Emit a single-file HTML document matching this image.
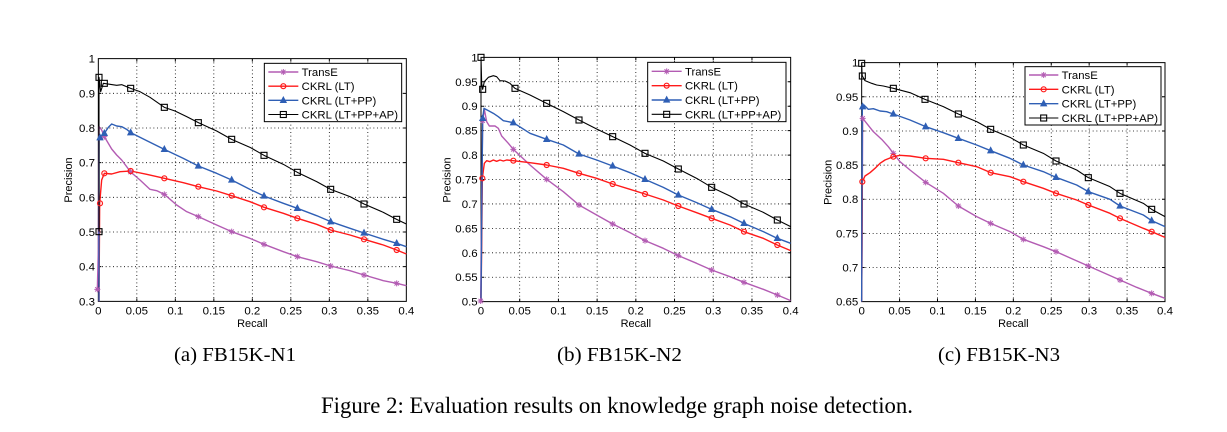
<!DOCTYPE html>
<html><head><meta charset="utf-8"><style>
html,body{margin:0;padding:0;background:#fff;}
svg{display:block;}
.tk{font-family:"Liberation Sans",Arial,sans-serif;font-size:34.5px;fill:#000;}
.lb{font-family:"Liberation Sans",Arial,sans-serif;font-size:33px;fill:#000;}
.lg{font-family:"Liberation Sans",Arial,sans-serif;font-size:34px;fill:#000;}
.cap{font-family:"Liberation Serif","Times New Roman",serif;fill:#000;}
.grid{stroke:#000;stroke-width:2.4;stroke-dasharray:3 8;fill:none;}
.ax{stroke:#000;stroke-width:3;fill:none;}
.pu{stroke:#b35cb3;stroke-width:4.2;fill:none;stroke-linejoin:round;}
.rd{stroke:#ff1a1a;stroke-width:4.2;fill:none;stroke-linejoin:round;}
.bl{stroke:#2f5fb5;stroke-width:4.2;fill:none;stroke-linejoin:round;}
.bk{stroke:#000;stroke-width:3.3;fill:none;stroke-linejoin:round;}
</style></head><body>
<svg width="1227" height="432" viewBox="0 0 1227 432" xmlns="http://www.w3.org/2000/svg">
<defs>
<g id="msq"><rect x="-9" y="-9" width="18" height="18" fill="none" stroke="#000" stroke-width="3.3"/></g>
<g id="mci"><circle r="7.5" fill="none" stroke="#ff1a1a" stroke-width="3.6"/></g>
<g id="mtr"><polygon points="0,-11 9.5,7 -9.5,7" fill="#2f5fb5" stroke="#2f5fb5" stroke-width="2"/></g>
<g id="mst"><path d="M-9,0 L9,0 M0,-9 L0,9 M-6.5,-6.5 L6.5,6.5 M-6.5,6.5 L6.5,-6.5" stroke="#b35cb3" stroke-width="3" fill="none"/></g>
</defs>
<rect width="1227" height="432" fill="#fff"/>

<!-- Chart 1 -->
<g transform="translate(50,50) scale(0.333333)">
<path class="grid" d="M260.5,26V754M376,26V754M491.5,26V754M607,26V754M722.5,26V754M838,26V754M953.5,26V754M145,130H1069M145,234H1069M145,338H1069M145,442H1069M145,546H1069M145,650H1069"/>
<path class="ax" d="M145,26H1069V754H145Z"/>
<path class="ax" d="M260.5,754v-9M376,754v-9M491.5,754v-9M607,754v-9M722.5,754v-9M838,754v-9M953.5,754v-9M260.5,26v9M376,26v9M491.5,26v9M607,26v9M722.5,26v9M838,26v9M953.5,26v9M145,130h9M145,234h9M145,338h9M145,442h9M145,546h9M145,650h9M1069,130h-9M1069,234h-9M1069,338h-9M1069,442h-9M1069,546h-9M1069,650h-9"/>
<g class="tk" text-anchor="middle">
<text x="145" y="793">0</text><text x="260.5" y="793">0.05</text><text x="376" y="793">0.1</text><text x="491.5" y="793">0.15</text><text x="607" y="793">0.2</text><text x="722.5" y="793">0.25</text><text x="838" y="793">0.3</text><text x="953.5" y="793">0.35</text><text x="1069" y="793">0.4</text>
</g>
<g class="tk" text-anchor="end">
<text x="135" y="38">1</text><text x="135" y="142">0.9</text><text x="135" y="246">0.8</text><text x="135" y="350">0.7</text><text x="135" y="454">0.6</text><text x="135" y="558">0.5</text><text x="135" y="662">0.4</text><text x="135" y="766">0.3</text>
</g>
<text class="lb" x="607" y="831" text-anchor="middle">Recall</text>
<text class="lb" transform="translate(66,390) rotate(-90)" text-anchor="middle">Precision</text>

<path class="pu" d="M142,718 L145,600 L147,230 L155,240 L163,260 L175,280 L185,297 L200,315 L215,330 L242,366 L270,390 L300,418 L320,422 L343,433 L380,465 L410,485 L445,500 L500,525 L545,545 L600,565 L642,583 L700,605 L742,620 L800,635 L842,648 L900,662 L942,675 L1000,692 L1040,700 L1069,707"/>
<path class="rd" d="M147,754 L149,460 L155,390 L163,370 L185,372 L210,365 L242,363 L290,373 L343,385 L400,398 L445,410 L500,423 L545,437 L600,455 L642,472 L700,490 L742,505 L800,523 L842,540 L900,555 L942,568 L1000,585 L1040,600 L1069,612"/>
<path class="bl" d="M147,754 L147,263 L155,262 L163,250 L175,232 L185,222 L200,228 L215,230 L230,238 L242,248 L290,272 L343,298 L400,325 L445,348 L500,370 L545,390 L600,418 L642,438 L700,460 L742,475 L800,497 L842,515 L900,535 L942,549 L1000,568 L1040,580 L1069,590"/>
<path class="bk" d="M147,545 L147,82 L152,125 L160,100 L180,103 L200,106 L215,104 L242,115 L270,125 L300,142 L343,172 L375,183 L410,200 L445,218 L500,243 L545,268 L600,292 L642,316 L700,343 L742,367 L800,395 L842,418 L900,440 L942,462 L1000,487 L1040,508 L1069,522"/>
<use href="#mst" x="142" y="718"/><use href="#mst" x="163" y="260"/><use href="#mst" x="242" y="366"/><use href="#mst" x="343" y="433"/><use href="#mst" x="445" y="500"/><use href="#mst" x="545" y="545"/><use href="#mst" x="642" y="583"/><use href="#mst" x="742" y="620"/><use href="#mst" x="842" y="648"/><use href="#mst" x="942" y="675"/><use href="#mst" x="1040" y="700"/>
<use href="#mci" x="150" y="460"/><use href="#mci" x="163" y="370"/><use href="#mci" x="242" y="363"/><use href="#mci" x="343" y="385"/><use href="#mci" x="445" y="410"/><use href="#mci" x="545" y="437"/><use href="#mci" x="642" y="472"/><use href="#mci" x="742" y="505"/><use href="#mci" x="842" y="540"/><use href="#mci" x="942" y="568"/><use href="#mci" x="1040" y="600"/>
<use href="#mtr" x="150" y="263"/><use href="#mtr" x="163" y="250"/><use href="#mtr" x="242" y="248"/><use href="#mtr" x="343" y="298"/><use href="#mtr" x="445" y="348"/><use href="#mtr" x="545" y="390"/><use href="#mtr" x="642" y="438"/><use href="#mtr" x="742" y="475"/><use href="#mtr" x="842" y="515"/><use href="#mtr" x="942" y="549"/><use href="#mtr" x="1040" y="580"/>
<use href="#msq" x="147" y="545"/><use href="#msq" x="147" y="82"/><use href="#msq" x="163" y="100"/><use href="#msq" x="242" y="115"/><use href="#msq" x="343" y="172"/><use href="#msq" x="445" y="218"/><use href="#msq" x="545" y="268"/><use href="#msq" x="642" y="316"/><use href="#msq" x="742" y="367"/><use href="#msq" x="842" y="418"/><use href="#msq" x="942" y="462"/><use href="#msq" x="1040" y="508"/>

<rect x="643" y="40" width="412" height="175" fill="#fff" stroke="#000" stroke-width="3"/>
<path class="pu" d="M655,66H745"/><use href="#mst" x="700" y="66"/><text class="lg" x="755" y="78">TransE</text>
<path class="rd" d="M655,108.5H745"/><use href="#mci" x="700" y="108.5"/><text class="lg" x="755" y="120.5">CKRL (LT)</text>
<path class="bl" d="M655,151H745"/><use href="#mtr" x="700" y="151"/><text class="lg" x="755" y="163">CKRL (LT+PP)</text>
<path class="bk" d="M655,193.5H745"/><use href="#msq" x="700" y="193.5"/><text class="lg" x="755" y="205.5">CKRL (LT+PP+AP)</text>
</g>

<!-- Chart 2 -->
<g transform="translate(430,50) scale(0.333333)">
<path class="grid" d="M269.1,22V755M385.25,22V755M501.4,22V755M617.5,22V755M733.6,22V755M849.75,22V755M965.9,22V755M153,95.3H1082M153,168.6H1082M153,241.9H1082M153,315.2H1082M153,388.5H1082M153,461.8H1082M153,535.1H1082M153,608.4H1082M153,681.7H1082"/>
<path class="ax" d="M153,22H1082V755H153Z"/>
<path class="ax" d="M269.1,755v-9M385.25,755v-9M501.4,755v-9M617.5,755v-9M733.6,755v-9M849.75,755v-9M965.9,755v-9M269.1,22v9M385.25,22v9M501.4,22v9M617.5,22v9M733.6,22v9M849.75,22v9M965.9,22v9M153,95.3h9M153,168.6h9M153,241.9h9M153,315.2h9M153,388.5h9M153,461.8h9M153,535.1h9M153,608.4h9M153,681.7h9M1082,95.3h-9M1082,168.6h-9M1082,241.9h-9M1082,315.2h-9M1082,388.5h-9M1082,461.8h-9M1082,535.1h-9M1082,608.4h-9M1082,681.7h-9"/>
<g class="tk" text-anchor="middle">
<text x="153" y="793">0</text><text x="269.1" y="793">0.05</text><text x="385.25" y="793">0.1</text><text x="501.4" y="793">0.15</text><text x="617.5" y="793">0.2</text><text x="733.6" y="793">0.25</text><text x="849.75" y="793">0.3</text><text x="965.9" y="793">0.35</text><text x="1082" y="793">0.4</text>
</g>
<g class="tk" text-anchor="end">
<text x="143" y="34">1</text><text x="143" y="107.3">0.95</text><text x="143" y="180.6">0.9</text><text x="143" y="253.9">0.85</text><text x="143" y="327.2">0.8</text><text x="143" y="400.5">0.75</text><text x="143" y="473.8">0.7</text><text x="143" y="547.1">0.65</text><text x="143" y="620.4">0.6</text><text x="143" y="693.7">0.55</text><text x="143" y="767">0.5</text>
</g>
<text class="lb" x="617.5" y="831" text-anchor="middle">Recall</text>
<text class="lb" transform="translate(62,390) rotate(-90)" text-anchor="middle">Precision</text>

<path class="pu" d="M152,753 L155,450 L158,212 L163,178 L170,215 L178,228 L195,228 L205,235 L215,258 L235,280 L250,298 L300,345 L350,388 L400,425 L447,465 L500,495 L548,522 L600,548 L645,572 L700,595 L745,617 L800,640 L845,660 L900,680 L942,697 L1000,718 L1042,735 L1082,752"/>
<path class="rd" d="M153,755 L155,590 L157,385 L163,340 L170,332 L180,335 L190,330 L200,334 L210,330 L220,333 L230,330 L250,332 L300,338 L350,345 L400,355 L447,370 L500,385 L548,402 L600,418 L645,432 L700,450 L745,468 L800,488 L845,505 L900,525 L942,545 L1000,565 L1042,585 L1082,602"/>
<path class="bl" d="M153,755 L156,400 L158,205 L162,175 L175,182 L190,190 L205,200 L220,212 L250,218 L300,250 L350,268 L400,285 L447,312 L500,330 L548,348 L600,368 L645,388 L700,412 L745,435 L800,458 L845,478 L900,500 L942,520 L1000,545 L1042,565 L1082,580"/>
<path class="bk" d="M153,22 L155,100 L158,118 L163,95 L175,82 L190,77 L200,80 L210,92 L225,93 L240,100 L255,115 L300,135 L350,160 L400,185 L447,210 L500,237 L548,260 L600,285 L645,310 L700,333 L745,357 L800,385 L845,412 L900,438 L942,462 L1000,487 L1042,510 L1082,530"/>
<use href="#mst" x="152" y="753"/><use href="#mst" x="158" y="212"/><use href="#mst" x="250" y="298"/><use href="#mst" x="350" y="388"/><use href="#mst" x="447" y="465"/><use href="#mst" x="548" y="522"/><use href="#mst" x="645" y="572"/><use href="#mst" x="745" y="617"/><use href="#mst" x="845" y="660"/><use href="#mst" x="942" y="697"/><use href="#mst" x="1042" y="735"/>
<use href="#mci" x="157" y="385"/><use href="#mci" x="250" y="332"/><use href="#mci" x="350" y="345"/><use href="#mci" x="447" y="370"/><use href="#mci" x="548" y="402"/><use href="#mci" x="645" y="432"/><use href="#mci" x="745" y="468"/><use href="#mci" x="845" y="505"/><use href="#mci" x="942" y="545"/><use href="#mci" x="1042" y="585"/>
<use href="#mtr" x="158" y="205"/><use href="#mtr" x="250" y="218"/><use href="#mtr" x="350" y="268"/><use href="#mtr" x="447" y="312"/><use href="#mtr" x="548" y="348"/><use href="#mtr" x="645" y="388"/><use href="#mtr" x="745" y="435"/><use href="#mtr" x="845" y="478"/><use href="#mtr" x="942" y="520"/><use href="#mtr" x="1042" y="565"/>
<use href="#msq" x="153" y="22"/><use href="#msq" x="158" y="118"/><use href="#msq" x="255" y="115"/><use href="#msq" x="350" y="160"/><use href="#msq" x="447" y="210"/><use href="#msq" x="548" y="260"/><use href="#msq" x="645" y="310"/><use href="#msq" x="745" y="357"/><use href="#msq" x="845" y="412"/><use href="#msq" x="942" y="462"/><use href="#msq" x="1042" y="510"/>

<rect x="653" y="37" width="415" height="178" fill="#fff" stroke="#000" stroke-width="3"/>
<path class="pu" d="M665,64H755"/><use href="#mst" x="710" y="64"/><text class="lg" x="765" y="76">TransE</text>
<path class="rd" d="M665,107H755"/><use href="#mci" x="710" y="107"/><text class="lg" x="765" y="119">CKRL (LT)</text>
<path class="bl" d="M665,150H755"/><use href="#mtr" x="710" y="150"/><text class="lg" x="765" y="162">CKRL (LT+PP)</text>
<path class="bk" d="M665,193H755"/><use href="#msq" x="710" y="193"/><text class="lg" x="765" y="205">CKRL (LT+PP+AP)</text>
</g>

<!-- Chart 3 -->
<g transform="translate(810,50) scale(0.333333)">
<path class="grid" d="M268.75,38V755M382.5,38V755M496.25,38V755M610,38V755M723.75,38V755M837.5,38V755M951.25,38V755M155,140.4H1065M155,242.9H1065M155,345.3H1065M155,447.7H1065M155,550.1H1065M155,652.6H1065"/>
<path class="ax" d="M155,38H1065V755H155Z"/>
<path class="ax" d="M268.75,755v-9M382.5,755v-9M496.25,755v-9M610,755v-9M723.75,755v-9M837.5,755v-9M951.25,755v-9M268.75,38v9M382.5,38v9M496.25,38v9M610,38v9M723.75,38v9M837.5,38v9M951.25,38v9M155,140.4h9M155,242.9h9M155,345.3h9M155,447.7h9M155,550.1h9M155,652.6h9M1065,140.4h-9M1065,242.9h-9M1065,345.3h-9M1065,447.7h-9M1065,550.1h-9M1065,652.6h-9"/>
<g class="tk" text-anchor="middle">
<text x="155" y="793">0</text><text x="268.75" y="793">0.05</text><text x="382.5" y="793">0.1</text><text x="496.25" y="793">0.15</text><text x="610" y="793">0.2</text><text x="723.75" y="793">0.25</text><text x="837.5" y="793">0.3</text><text x="951.25" y="793">0.35</text><text x="1065" y="793">0.4</text>
</g>
<g class="tk" text-anchor="end">
<text x="145" y="50">1</text><text x="145" y="152.4">0.95</text><text x="145" y="254.9">0.9</text><text x="145" y="357.3">0.85</text><text x="145" y="459.7">0.8</text><text x="145" y="562.1">0.75</text><text x="145" y="664.6">0.7</text><text x="145" y="767">0.65</text>
</g>
<text class="lb" x="610" y="831" text-anchor="middle">Recall</text>
<text class="lb" transform="translate(64,397) rotate(-90)" text-anchor="middle">Precision</text>

<path class="pu" d="M155,755 L156,600 L158,205 L170,220 L190,245 L215,268 L235,290 L250,310 L270,335 L300,360 L347,397 L400,430 L445,468 L500,500 L542,520 L600,545 L640,568 L700,590 L738,605 L790,628 L835,648 L880,668 L930,690 L980,712 L1025,730 L1065,745"/>
<path class="rd" d="M155,755 L156,600 L157,395 L165,378 L180,368 L195,355 L210,340 L225,330 L250,320 L270,316 L300,318 L347,325 L400,328 L445,338 L500,350 L542,368 L600,380 L640,395 L700,415 L738,430 L800,450 L835,465 L900,490 L930,505 L1000,535 L1025,545 L1065,562"/>
<path class="bl" d="M155,755 L156,400 L157,170 L162,165 L175,178 L190,176 L210,183 L230,185 L250,192 L300,210 L347,230 L400,248 L445,265 L500,285 L542,302 L600,325 L640,345 L700,365 L738,382 L800,405 L835,425 L900,448 L930,468 L1000,495 L1025,512 L1065,530"/>
<path class="bk" d="M155,40 L156,70 L157,78 L165,92 L185,100 L200,105 L220,108 L250,115 L300,128 L345,148 L400,170 L445,192 L500,215 L542,238 L600,262 L640,285 L700,310 L738,333 L800,360 L835,383 L900,410 L930,430 L1000,460 L1025,478 L1065,500"/>
<use href="#mst" x="158" y="205"/><use href="#mst" x="250" y="310"/><use href="#mst" x="347" y="397"/><use href="#mst" x="445" y="468"/><use href="#mst" x="542" y="520"/><use href="#mst" x="640" y="568"/><use href="#mst" x="738" y="605"/><use href="#mst" x="835" y="648"/><use href="#mst" x="930" y="690"/><use href="#mst" x="1025" y="730"/>
<use href="#mci" x="157" y="395"/><use href="#mci" x="250" y="320"/><use href="#mci" x="347" y="325"/><use href="#mci" x="445" y="338"/><use href="#mci" x="542" y="368"/><use href="#mci" x="640" y="395"/><use href="#mci" x="738" y="430"/><use href="#mci" x="835" y="465"/><use href="#mci" x="930" y="505"/><use href="#mci" x="1025" y="545"/>
<use href="#mtr" x="158" y="170"/><use href="#mtr" x="250" y="192"/><use href="#mtr" x="347" y="230"/><use href="#mtr" x="445" y="265"/><use href="#mtr" x="542" y="302"/><use href="#mtr" x="640" y="345"/><use href="#mtr" x="738" y="382"/><use href="#mtr" x="835" y="425"/><use href="#mtr" x="930" y="468"/><use href="#mtr" x="1025" y="512"/>
<use href="#msq" x="155" y="40"/><use href="#msq" x="157" y="78"/><use href="#msq" x="250" y="115"/><use href="#msq" x="345" y="148"/><use href="#msq" x="445" y="192"/><use href="#msq" x="542" y="238"/><use href="#msq" x="640" y="285"/><use href="#msq" x="738" y="333"/><use href="#msq" x="835" y="383"/><use href="#msq" x="930" y="430"/><use href="#msq" x="1025" y="478"/>

<rect x="645" y="50" width="408" height="175" fill="#fff" stroke="#000" stroke-width="3"/>
<path class="pu" d="M657,75H745"/><use href="#mst" x="701" y="75"/><text class="lg" x="755" y="87">TransE</text>
<path class="rd" d="M657,118H745"/><use href="#mci" x="701" y="118"/><text class="lg" x="755" y="130">CKRL (LT)</text>
<path class="bl" d="M657,161H745"/><use href="#mtr" x="701" y="161"/><text class="lg" x="755" y="173">CKRL (LT+PP)</text>
<path class="bk" d="M657,204H745"/><use href="#msq" x="701" y="204"/><text class="lg" x="755" y="216">CKRL (LT+PP+AP)</text>
</g>

<!-- Captions -->
<text class="cap" x="174" y="361" font-size="20" textLength="122" lengthAdjust="spacingAndGlyphs">(a)  FB15K-N1</text>
<text class="cap" x="557" y="361" font-size="20" textLength="125" lengthAdjust="spacingAndGlyphs">(b)  FB15K-N2</text>
<text class="cap" x="938" y="361" font-size="20" textLength="122" lengthAdjust="spacingAndGlyphs">(c)  FB15K-N3</text>
<text class="cap" x="321" y="413" font-size="22.7" textLength="592" lengthAdjust="spacingAndGlyphs">Figure 2: Evaluation results on knowledge graph noise detection.</text>
</svg>
</body></html>
